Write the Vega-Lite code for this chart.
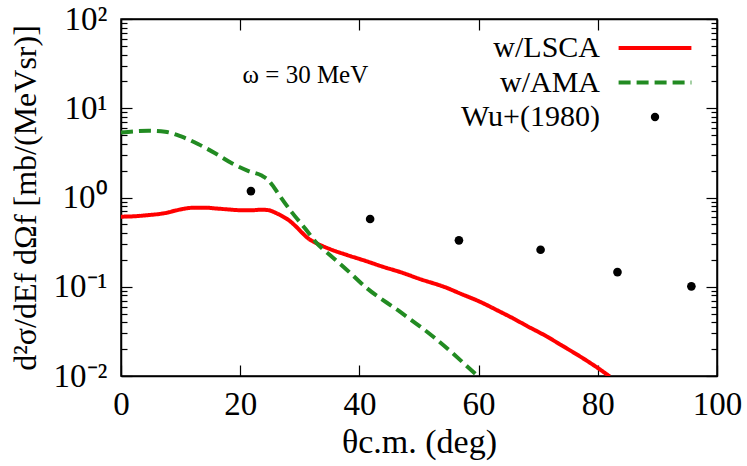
{
  "$schema": "https://vega.github.io/schema/vega-lite/v6.json",
  "width": 596,
  "height": 357,
  "autosize": {"type": "none"},
  "padding": {"left": 121, "top": 19, "right": 30, "bottom": 90},
  "background": "white",
  "config": {
    "view": {"stroke": "black", "strokeWidth": 1.5},
    "font": "Liberation Serif",
    "axis": {"grid": false, "domain": true, "domainColor": "black", "domainWidth": 1.5, "tickColor": "black", "tickWidth": 1.2, "labelColor": "black", "titleColor": "black", "labelFont": "Liberation Serif", "titleFont": "Liberation Serif", "titleFontWeight": "normal", "labelFlush": false, "labelOverlap": false}
  },
  "datasets": {
    "curves": [
      {"s": "w/LSCA", "t": 0, "v": 0.61},
      {"s": "w/LSCA", "t": 2, "v": 0.615},
      {"s": "w/LSCA", "t": 4.6, "v": 0.635},
      {"s": "w/LSCA", "t": 6.5, "v": 0.655},
      {"s": "w/LSCA", "t": 7.9, "v": 0.68},
      {"s": "w/LSCA", "t": 9, "v": 0.71},
      {"s": "w/LSCA", "t": 10.2, "v": 0.74},
      {"s": "w/LSCA", "t": 12.4, "v": 0.77},
      {"s": "w/LSCA", "t": 14, "v": 0.77},
      {"s": "w/LSCA", "t": 15.8, "v": 0.755},
      {"s": "w/LSCA", "t": 18, "v": 0.735},
      {"s": "w/LSCA", "t": 20.3, "v": 0.72},
      {"s": "w/LSCA", "t": 22, "v": 0.72},
      {"s": "w/LSCA", "t": 23.6, "v": 0.73},
      {"s": "w/LSCA", "t": 24.8, "v": 0.72},
      {"s": "w/LSCA", "t": 25.8, "v": 0.68},
      {"s": "w/LSCA", "t": 27, "v": 0.62},
      {"s": "w/LSCA", "t": 28.1, "v": 0.56},
      {"s": "w/LSCA", "t": 29.4, "v": 0.47},
      {"s": "w/LSCA", "t": 30.6, "v": 0.39},
      {"s": "w/LSCA", "t": 31.6, "v": 0.34},
      {"s": "w/LSCA", "t": 32.3, "v": 0.32},
      {"s": "w/LSCA", "t": 35, "v": 0.265},
      {"s": "w/LSCA", "t": 38, "v": 0.226},
      {"s": "w/LSCA", "t": 41, "v": 0.195},
      {"s": "w/LSCA", "t": 44, "v": 0.167},
      {"s": "w/LSCA", "t": 47, "v": 0.145},
      {"s": "w/LSCA", "t": 50, "v": 0.123},
      {"s": "w/LSCA", "t": 54.6, "v": 0.0975},
      {"s": "w/LSCA", "t": 57, "v": 0.0835},
      {"s": "w/LSCA", "t": 60, "v": 0.069},
      {"s": "w/LSCA", "t": 63.6, "v": 0.0525},
      {"s": "w/LSCA", "t": 65.8, "v": 0.0442},
      {"s": "w/LSCA", "t": 68, "v": 0.0367},
      {"s": "w/LSCA", "t": 71.4, "v": 0.0278},
      {"s": "w/LSCA", "t": 74, "v": 0.0219},
      {"s": "w/LSCA", "t": 77, "v": 0.0166},
      {"s": "w/LSCA", "t": 80, "v": 0.0123},
      {"s": "w/LSCA", "t": 82, "v": 0.0099},
      {"s": "w/AMA", "t": 0, "v": 5.35},
      {"s": "w/AMA", "t": 2, "v": 5.5},
      {"s": "w/AMA", "t": 4.6, "v": 5.6},
      {"s": "w/AMA", "t": 7.4, "v": 5.46},
      {"s": "w/AMA", "t": 10.2, "v": 4.8},
      {"s": "w/AMA", "t": 13, "v": 3.95},
      {"s": "w/AMA", "t": 15.8, "v": 3.13},
      {"s": "w/AMA", "t": 18.6, "v": 2.42},
      {"s": "w/AMA", "t": 21.4, "v": 1.98},
      {"s": "w/AMA", "t": 23.6, "v": 1.76},
      {"s": "w/AMA", "t": 24.7, "v": 1.57},
      {"s": "w/AMA", "t": 25.5, "v": 1.35},
      {"s": "w/AMA", "t": 26.4, "v": 1.1},
      {"s": "w/AMA", "t": 28.6, "v": 0.69},
      {"s": "w/AMA", "t": 30.9, "v": 0.45},
      {"s": "w/AMA", "t": 32.8, "v": 0.31},
      {"s": "w/AMA", "t": 35, "v": 0.228},
      {"s": "w/AMA", "t": 37.3, "v": 0.168},
      {"s": "w/AMA", "t": 41.2, "v": 0.097},
      {"s": "w/AMA", "t": 46.8, "v": 0.0525},
      {"s": "w/AMA", "t": 52.4, "v": 0.0275},
      {"s": "w/AMA", "t": 59.7, "v": 0.0102}
    ],
    "wu": [
      {"s": "Wu+(1980)", "t": 21.8, "v": 1.18},
      {"s": "Wu+(1980)", "t": 41.8, "v": 0.574},
      {"s": "Wu+(1980)", "t": 56.7, "v": 0.331},
      {"s": "Wu+(1980)", "t": 70.4, "v": 0.26},
      {"s": "Wu+(1980)", "t": 83.3, "v": 0.146},
      {"s": "Wu+(1980)", "t": 95.7, "v": 0.101}
    ],
    "note": [{"t": 20.4, "v": 23.6, "label": "ω = 30 MeV"}]
  },
  "resolve": {"axis": {"x": "independent", "y": "independent"}},
  "layer": [
    {
      "data": {"name": "curves"},
      "mark": {"type": "line", "strokeWidth": 4, "clip": true, "interpolate": "monotone"},
      "encoding": {
        "x": {"field": "t", "type": "quantitative", "scale": {"domain": [0, 100], "nice": false},
          "axis": {"orient": "bottom", "values": [0, 20, 40, 60, 80, 100], "tickSize": -11, "labelFont": "Liberation Serif", "labelFontSize": 33, "labelPadding": 23, "labelFlush": false, "title": "θc.m. (deg)", "titleFont": "Liberation Serif", "titleFontSize": 34, "titlePadding": 4}},
        "y": {"field": "v", "type": "quantitative", "scale": {"type": "log", "domain": [0.01, 100], "nice": false},
          "axis": {"orient": "left", "values": [0.01, 0.1, 1, 10, 100], "tickSize": -11, "labelFont": "Liberation Serif", "labelFontSize": 33, "labelPadding": 25, "labelFlush": false,
            "labelExpr": "datum.value >= 99 ? '10²' : datum.value >= 9 ? '10¹' : datum.value >= 0.9 ? '10⁰' : datum.value >= 0.09 ? '10⁻¹' : '10⁻²'",
            "title": "d²σ/dEf dΩf [mb/(MeVsr)]", "titleFont": "Liberation Serif", "titleFontSize": 32, "titlePadding": 11}},
        "color": {"field": "s", "type": "nominal",
          "scale": {"domain": ["w/LSCA", "w/AMA", "Wu+(1980)"], "range": ["#ff0000", "#228b22", "#000000"]},
          "legend": {"orient": "none", "legendX": 470, "legendY": 14, "title": null, "padding": 0,
            "labelFontSize": 30, "labelFont": "Liberation Serif", "labelColor": "black", "labelAlign": "right", "labelOffset": -70,
            "symbolSize": 100, "symbolStrokeWidth": 4, "symbolOffset": 49, "rowPadding": 4.5,
            "encode": {"symbols": {"update": {
              "shape": {"signal": "datum.value === 'Wu+(1980)' ? 'circle' : 'stroke'"},
              "size": {"signal": "datum.value === 'Wu+(1980)' ? 70 : 5300"},
              "strokeDash": {"signal": "datum.value === 'w/AMA' ? [12, 6] : [1, 0]"},
              "fill": {"signal": "datum.value === 'Wu+(1980)' ? 'black' : 'transparent'"},
              "stroke": {"signal": "datum.value === 'w/LSCA' ? '#ff0000' : datum.value === 'w/AMA' ? '#228b22' : 'black'"},
              "strokeWidth": {"signal": "datum.value === 'Wu+(1980)' ? 0 : 4"},
              "opacity": {"value": 1}
            }}}}},
        "strokeDash": {"field": "s", "type": "nominal", "scale": {"domain": ["w/LSCA", "w/AMA"], "range": [[1, 0], [12, 6]]}, "legend": null}
      }
    },
    {
      "data": {"name": "wu"},
      "mark": {"type": "point", "filled": true, "size": 75, "opacity": 1},
      "encoding": {
        "x": {"field": "t", "type": "quantitative", "axis": {"orient": "top", "values": [0, 20, 40, 60, 80, 100], "tickSize": -11, "labels": false, "title": null}},
        "y": {"field": "v", "type": "quantitative", "axis": {"orient": "right", "values": [0.01, 0.1, 1, 10, 100], "tickSize": -11, "labels": false, "title": null}},
        "color": {"field": "s", "type": "nominal"}
      }
    },
    {
      "data": {"name": "note"},
      "mark": {"type": "text", "align": "left", "baseline": "middle", "fontSize": 25, "font": "Liberation Serif", "color": "black"},
      "encoding": {
        "x": {"field": "t", "type": "quantitative", "axis": null},
        "y": {"field": "v", "type": "quantitative", "axis": {"orient": "left", "domain": false, "values": [0.02, 0.03, 0.04, 0.05, 0.06, 0.07, 0.08, 0.09, 0.2, 0.3, 0.4, 0.5, 0.6, 0.7, 0.8, 0.9, 2, 3, 4, 5, 6, 7, 8, 9, 20, 30, 40, 50, 60, 70, 80, 90], "tickSize": -6, "labels": false, "title": null}},
        "text": {"field": "label"}
      }
    },
    {
      "data": {"name": "wu"},
      "mark": {"type": "point", "opacity": 0},
      "encoding": {
        "x": {"field": "t", "type": "quantitative", "axis": null},
        "y": {"field": "v", "type": "quantitative", "axis": {"orient": "right", "domain": false, "values": [0.02, 0.03, 0.04, 0.05, 0.06, 0.07, 0.08, 0.09, 0.2, 0.3, 0.4, 0.5, 0.6, 0.7, 0.8, 0.9, 2, 3, 4, 5, 6, 7, 8, 9, 20, 30, 40, 50, 60, 70, 80, 90], "tickSize": -6, "labels": false, "title": null}}
      }
    }
  ]
}
